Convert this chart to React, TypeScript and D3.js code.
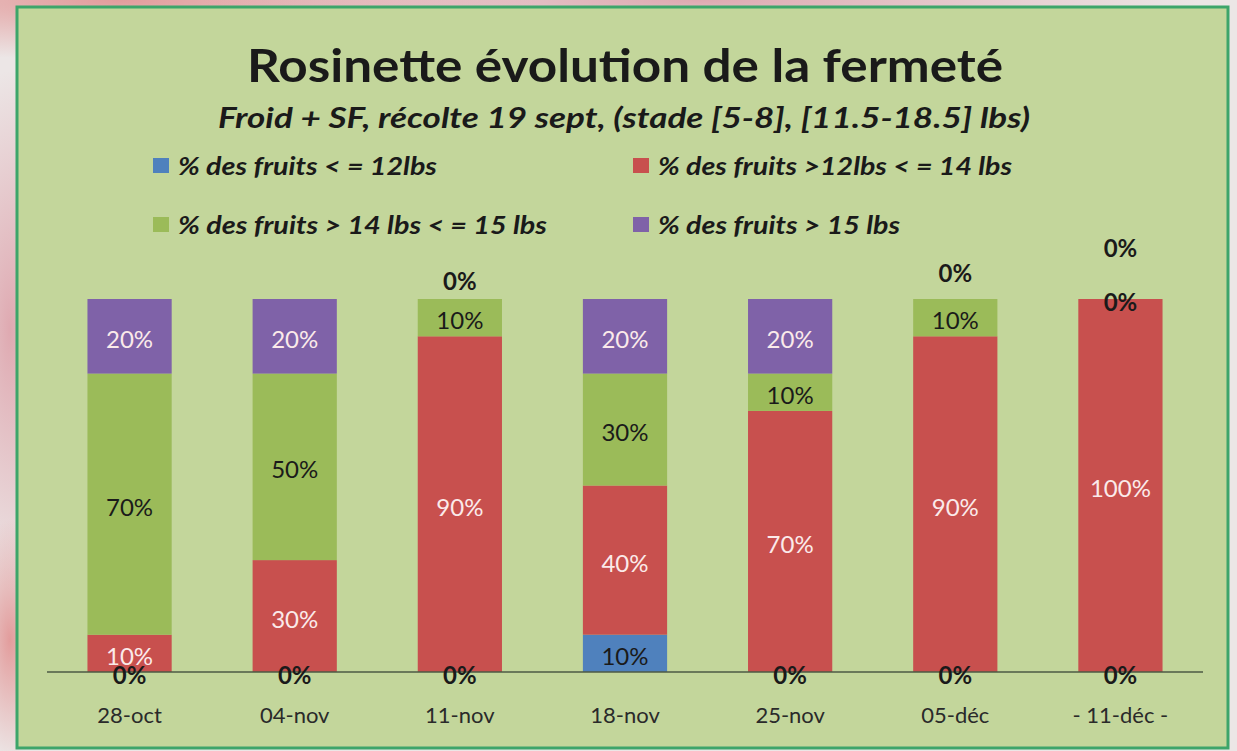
import React from 'react';
import * as d3 from 'd3';

const categories = ['28-oct', '04-nov', '11-nov', '18-nov', '25-nov', '05-déc', '- 11-déc -'];
const seriesKeys = ['le12', 'le14', 'le15', 'gt15'];
const seriesNames = [
    '% des fruits < = 12lbs',
    '% des fruits >12lbs < = 14 lbs',
    '% des fruits > 14 lbs < = 15 lbs',
    '% des fruits > 15 lbs',
];
const le12 = [0, 0, 0, 10, 0, 0, 0];
const le14 = [10, 30, 90, 40, 70, 90, 100];
const le15 = [70, 50, 10, 30, 10, 10, 0];
const gt15 = [20, 20, 0, 20, 20, 0, 0];

const colors = ['#4f81bd', '#c8504e', '#9bbb59', '#7f62a8'];
const lightText = [false, true, false, true];
// extra lift (px) for the 0% labels that sit on top of a bar, as in the original
const zeroLift: Record<string, number> = { 'gt15-2': 21, 'gt15-5': 29, 'gt15-6': 54 };
// the original picture is stretched sideways, so text widths are forced
const legendWidths = [259, 354, 369, 242];

const W = 1237;
const H = 751;
const plot = { left: 47, right: 1203, top: 299, bottom: 672 };
const font = 'Lato, "Open Sans", sans-serif';
const dark = '#1a1a1a';

const App = () => {
    const rows = categories.map((c, i) => ({
        cat: c, le12: le12[i], le14: le14[i], le15: le15[i], gt15: gt15[i],
    }));
    const stacked = d3.stack<any>().keys(seriesKeys)(rows);

    const x = d3.scaleBand().domain(categories).range([plot.left, plot.right]).paddingInner(0.49).paddingOuter(0.245);
    const y = d3.scaleLinear().domain([0, 100]).range([plot.bottom, plot.top]);

    const legendItems = seriesNames.map((name, i) => ({
        name, color: colors[i], w: legendWidths[i],
        lx: i % 2 === 0 ? 153 : 633,
        ly: i < 2 ? 165 : 224,
    }));

    return (
        <svg width={W} height={H} style={{ position: 'absolute', left: 0, top: 0 }}>
            <defs>
                <radialGradient id="blobA" cx="0.5" cy="0.5" r="0.5">
                    <stop offset="0" stopColor="#e08a8a" stopOpacity="0.8" />
                    <stop offset="1" stopColor="#e08a8a" stopOpacity="0" />
                </radialGradient>
                <radialGradient id="blobB" cx="0.5" cy="0.5" r="0.5">
                    <stop offset="0" stopColor="#d98f9a" stopOpacity="0.7" />
                    <stop offset="1" stopColor="#d98f9a" stopOpacity="0" />
                </radialGradient>
            </defs>
            <rect width={W} height={H} fill="#ece6e6" />
            <ellipse cx={120} cy={0} rx={420} ry={60} fill="url(#blobA)" />
            <ellipse cx={700} cy={0} rx={500} ry={40} fill="url(#blobB)" />
            <ellipse cx={10} cy={330} rx={60} ry={260} fill="url(#blobB)" />
            <ellipse cx={10} cy={640} rx={40} ry={120} fill="url(#blobA)" />

            <rect x={17} y={7} width={1211} height={741} fill="#c3d69b" stroke="#3da56a" strokeWidth={3} />

            <text x={625} y={82} textAnchor="middle" fontFamily={font} fontWeight={700} fontSize={46} fill={dark}
                textLength={756} lengthAdjust="spacingAndGlyphs">
                Rosinette évolution de la fermeté
            </text>
            <text x={624} y={128} textAnchor="middle" fontFamily={font} fontWeight={700} fontStyle="italic" fontSize={28} fill={dark}
                textLength={812} lengthAdjust="spacingAndGlyphs">
                Froid + SF, récolte 19 sept, (stade [5-8], [11.5-18.5] lbs)
            </text>

            {legendItems.map((d) => (
                <g key={d.name}>
                    <rect x={d.lx} y={d.ly - 7} width={16} height={15} fill={d.color} />
                    <text x={d.lx + 25} y={d.ly} dominantBaseline="central" fontFamily={font} fontWeight={700} fontStyle="italic" fontSize={24} fill={dark}
                        textLength={d.w} lengthAdjust="spacingAndGlyphs">
                        {d.name}
                    </text>
                </g>
            ))}

            {stacked.map((s, si) => (
                <g key={s.key} fill={colors[si]}>
                    {s.map((d, i) => (
                        <rect key={i} x={x(categories[i])} y={y(d[1])} width={x.bandwidth()} height={y(d[0]) - y(d[1])} />
                    ))}
                </g>
            ))}

            <line x1={plot.left} x2={plot.right} y1={plot.bottom} y2={plot.bottom} stroke="#4d5a45" strokeWidth={1.5} />

            {stacked.map((s, si) => (
                <g key={'lab' + s.key}>
                    {s.map((d, i) => {
                        const v = d[1] - d[0];
                        const lift = zeroLift[s.key + '-' + i] || 0;
                        const cy = y((d[0] + d[1]) / 2) - lift + 2;
                        return (
                            <text key={i} x={x(categories[i])! + x.bandwidth() / 2} y={cy} textAnchor="middle" dominantBaseline="central"
                                fontFamily={font} fontSize={24} fontWeight={v === 0 ? 700 : 400}
                                fill={v > 0 && lightText[si] ? '#fbeaea' : dark}>
                                {v}%
                            </text>
                        );
                    })}
                </g>
            ))}

            {categories.map((c) => (
                <text key={c} x={x(c)! + x.bandwidth() / 2} y={714} textAnchor="middle" dominantBaseline="central" fontFamily={font} fontSize={22} fill="#2a2a2a">
                    {c}
                </text>
            ))}
        </svg>
    );
};

export default App;
